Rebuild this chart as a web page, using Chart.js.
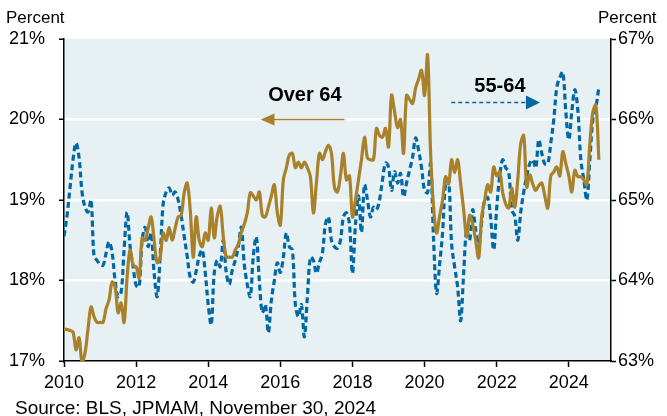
<!DOCTYPE html>
<html>
<head>
<meta charset="utf-8">
<script src="https://cdn.jsdelivr.net/npm/chart.js@4.4.0/dist/chart.umd.min.js"></script>
<style>
  html, body { margin: 0; padding: 0; background: #fff; }
  #wrap { width: 667px; height: 416px; }
</style>
</head>
<body>
<div id="wrap"><canvas id="chart" width="667" height="416"></canvas></div>
<script>
// monthly data, Jan 2010 .. Nov 2024
const startYear = 2010;
const tickYears = [2010, 2012, 2014, 2016, 2018, 2020, 2022, 2024];
const leftTicks = [17, 18, 19, 20, 21];   // Over 64, percent
const rightTicks = [63, 64, 65, 66, 67];  // 55-64, percent

const over64 = [
  17.4, 17.39, 17.38, 17.36, 17.14, 17.29, 16.99, 17.1, 17.4, 17.67,
  17.55, 17.48, 17.48, 17.48, 17.65, 17.76, 17.98, 17.92, 17.6, 17.72,
  17.48, 18.04, 18.38, 18.19, 18.17, 18.03, 18.53, 18.5, 18.65, 18.79,
  18.5, 18.22, 18.29, 18.59, 18.5, 18.66, 18.5, 18.65, 18.79, 18.81,
  19.09, 19.21, 18.88, 18.29, 18.79, 18.5, 18.42, 18.59, 18.5, 18.9,
  18.53, 18.8, 18.92, 18.55, 18.29, 18.29, 18.29, 18.38, 18.45, 18.6,
  18.7, 18.84, 19.09, 19.05, 19.0, 19.1, 18.81, 18.79, 18.91, 19.05,
  19.19, 18.84, 18.69, 19.25, 19.4, 19.56, 19.58, 19.4, 19.47, 19.4,
  19.47, 19.4, 19.29, 18.84, 19.21, 19.58, 19.5, 19.6, 19.68, 19.58,
  19.16, 19.1, 19.3, 19.58, 19.25, 19.3, 18.79, 19.0, 19.25, 19.5,
  19.78, 19.52, 19.5, 19.5, 19.89, 19.8, 19.78, 19.89, 19.66, 20.3,
  20.1, 19.9, 20.0, 19.58, 20.3, 20.25, 20.2, 20.39, 20.5, 20.61,
  20.3, 20.8, 19.58, 18.91, 18.59, 18.8, 19.0, 19.29, 19.2, 19.5,
  19.34, 19.5, 19.2, 18.88, 18.54, 18.81, 18.7, 18.5, 18.28, 18.79,
  19.0, 19.19, 19.1, 19.41, 19.3, 19.35, 19.09, 18.95, 18.9, 19.15,
  18.91, 19.25, 19.7, 19.8, 19.16, 19.31, 19.2, 19.12, 19.18, 19.21,
  19.05, 18.9, 19.3, 19.35, 19.41, 19.3, 19.6, 19.45, 19.3, 19.1,
  19.37, 19.29, 19.29, 19.25, 19.19, 19.7, 20.09, 20.18, 19.5
];

const age55to64 = [
  64.55, 64.8, 65.15, 65.5, 65.71, 65.53, 65.1, 64.91, 64.85, 65.0,
  64.3, 64.25, 64.2, 64.19, 64.34, 64.48, 64.35, 64.0, 63.8, 63.85,
  64.38, 64.85, 64.42, 64.17, 63.94, 63.92, 64.5, 64.66, 64.42, 64.59,
  64.09, 63.8, 64.3, 64.95, 65.1, 65.15, 65.06, 65.1, 65.0, 64.8,
  64.55, 64.3, 64.04, 63.98, 64.12, 64.3, 64.38, 64.1, 63.7, 63.45,
  64.09, 64.25, 64.17, 64.5, 64.1, 63.95, 64.13, 64.25, 64.42, 64.66,
  64.2, 63.95, 63.8, 64.3, 64.54, 64.0, 63.6, 63.7, 63.35, 63.75,
  64.0, 64.22, 64.1, 64.29, 64.59, 64.42, 64.38, 63.7, 63.55, 63.7,
  63.3, 63.8, 64.29, 64.25, 64.09, 64.22, 64.34, 64.7, 64.79, 64.5,
  64.42, 64.4, 64.5, 64.79, 64.84, 64.7, 64.09, 64.7, 65.05, 64.6,
  65.19, 65.0, 64.79, 64.91, 64.88, 65.0, 65.25, 65.46, 65.41, 65.12,
  65.35, 65.21, 65.33, 65.04, 65.21, 65.37, 65.53, 65.77, 65.62, 65.4,
  65.12, 65.09, 65.45, 64.5, 63.84, 64.2, 64.6, 65.21, 65.25, 64.45,
  64.17, 63.92, 63.5, 64.09, 64.63, 64.5, 64.88, 64.63, 64.44, 64.73,
  65.0, 65.03, 64.77, 64.38, 64.9, 65.3, 65.5, 65.4, 65.35, 64.88,
  64.8, 64.5, 64.85, 65.1, 65.3, 65.45, 65.5, 65.4, 65.75, 65.58,
  65.45, 65.45, 65.71, 66.0, 66.4, 66.52, 66.59, 66.1, 65.75, 66.1,
  66.37, 66.12, 65.5, 65.25, 65.0, 65.5, 66.0, 66.15, 66.4
];

const GOLD = '#a8812a';
const BLUE = '#0068a3';
const FONT = "'Liberation Sans', Arial, sans-serif";

function toPoints(values) {
  return values.map((v, i) => ({ x: startYear + i / 12, y: v }));
}

// plot background + annotations + outside texts
const decorations = {
  id: 'decorations',
  beforeDraw(chart) {
    const a = chart.chartArea;
    const ctx = chart.ctx;
    ctx.save();
    ctx.fillStyle = '#e7f0f3';
    ctx.fillRect(a.left, a.top, a.right - a.left, a.bottom - a.top);
    ctx.restore();
  },
  afterDraw(chart) {
    const ctx = chart.ctx;
    const x = chart.scales.x, yl = chart.scales.y, yr = chart.scales.y1;
    ctx.save();
    ctx.fillStyle = '#000';
    ctx.font = '17px ' + FONT;
    ctx.textBaseline = 'alphabetic';
    ctx.textAlign = 'left';
    ctx.fillText('Percent', 6, 23);
    ctx.fillText('Percent', 598, 23);
    ctx.font = '19px ' + FONT;
    ctx.fillText('Source: BLS, JPMAM, November 30, 2024', 15, 414);

    // Over 64 label and arrow
    ctx.font = 'bold 20px ' + FONT;
    ctx.textAlign = 'center';
    ctx.textBaseline = 'middle';
    ctx.fillText('Over 64', x.getPixelForValue(2016.68), yl.getPixelForValue(20.3));
    let ay = yl.getPixelForValue(20);
    let tip = x.getPixelForValue(2015.45);
    ctx.strokeStyle = GOLD;
    ctx.fillStyle = GOLD;
    ctx.lineWidth = 1.5;
    ctx.beginPath();
    ctx.moveTo(x.getPixelForValue(2017.78), ay);
    ctx.lineTo(tip + 12, ay);
    ctx.stroke();
    ctx.beginPath();
    ctx.moveTo(tip, ay);
    ctx.lineTo(tip + 14, ay - 6);
    ctx.lineTo(tip + 14, ay + 6);
    ctx.closePath();
    ctx.fill();

    // 55-64 label and arrow
    ctx.fillStyle = '#000';
    ctx.fillText('55-64', x.getPixelForValue(2022.09), yr.getPixelForValue(66.41));
    ay = yr.getPixelForValue(66.21);
    tip = x.getPixelForValue(2023.2);
    ctx.strokeStyle = BLUE;
    ctx.fillStyle = BLUE;
    ctx.setLineDash([4, 3]);
    ctx.beginPath();
    ctx.moveTo(x.getPixelForValue(2020.74), ay);
    ctx.lineTo(tip - 12, ay);
    ctx.stroke();
    ctx.setLineDash([]);
    ctx.beginPath();
    ctx.moveTo(tip, ay);
    ctx.lineTo(tip - 14, ay - 7);
    ctx.lineTo(tip - 14, ay + 7);
    ctx.closePath();
    ctx.fill();
    ctx.restore();
  }
};

const tickFont = { family: FONT, size: 18 };

new Chart(document.getElementById('chart'), {
  type: 'line',
  data: {
    datasets: [
      {
        label: 'Over 64',
        data: toPoints(over64),
        yAxisID: 'y',
        borderColor: GOLD,
        borderWidth: 3.2,
        pointRadius: 0,
        tension: 0.35
      },
      {
        label: '55-64',
        data: toPoints(age55to64),
        yAxisID: 'y1',
        borderColor: BLUE,
        borderWidth: 3.2,
        borderDash: [6, 3.5],
        pointRadius: 0,
        tension: 0.35
      }
    ]
  },
  options: {
    responsive: false,
    animation: false,
    layout: { padding: { top: 39, left: 0, right: 0, bottom: 0 } },
    plugins: {
      legend: { display: false },
      tooltip: { enabled: false }
    },
    scales: {
      x: {
        type: 'linear',
        min: startYear,
        max: 2025.17,
        afterBuildTicks: (scale) => { scale.ticks = tickYears.map(v => ({ value: v })); },
        afterFit: (scale) => { scale.height = 55; },
        ticks: {
          font: tickFont,
          color: '#000',
          maxRotation: 0,
          autoSkip: false,
          padding: 5,
          callback: (v) => String(v)
        },
        grid: {
          drawOnChartArea: false,
          drawTicks: true,
          tickLength: 6,
          tickColor: '#000',
          tickWidth: 1.5
        },
        border: { display: true, color: '#000', width: 1.5 }
      },
      y: {
        position: 'left',
        min: 17,
        max: 21,
        afterBuildTicks: (scale) => { scale.ticks = leftTicks.map(v => ({ value: v })); },
        afterFit: (scale) => { scale.width = 64; },
        ticks: {
          font: tickFont,
          color: '#000',
          padding: 14,
          callback: (v) => v + '%'
        },
        grid: {
          color: (c) => (c.tick && (c.tick.value === 17 || c.tick.value === 21)) ? 'rgba(0,0,0,0)' : '#ffffff',
          lineWidth: 2.5,
          tickLength: 5,
          tickColor: '#000',
          tickWidth: 1.5
        },
        border: { display: true, color: '#000', width: 1.5 }
      },
      y1: {
        position: 'right',
        min: 63,
        max: 67,
        afterBuildTicks: (scale) => { scale.ticks = rightTicks.map(v => ({ value: v })); },
        afterFit: (scale) => { scale.width = 56; },
        ticks: {
          font: tickFont,
          color: '#000',
          padding: 2,
          callback: (v) => v + '%'
        },
        grid: {
          drawOnChartArea: false,
          tickLength: 5,
          tickColor: '#000',
          tickWidth: 1.5
        },
        border: { display: true, color: '#000', width: 1.5 }
      }
    }
  },
  plugins: [decorations]
});
</script>
</body>
</html>
